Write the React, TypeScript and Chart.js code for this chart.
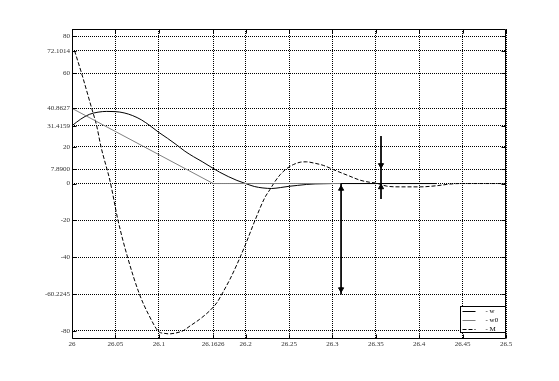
import React, { useEffect, useRef } from 'react';
import { Chart, registerables } from 'chart.js';
Chart.register(...registerables);

const xTicks = [26, 26.05, 26.1, 26.1626, 26.2, 26.25, 26.3, 26.35, 26.4, 26.45, 26.5];
const xTickLabels = ['26', '26.05', '26.1', '26.1626', '26.2', '26.25', '26.3', '26.35', '26.4', '26.45', '26.5'];
const yTicks = [-80, -60.2245, -40, -20, 0, 7.89, 20, 31.4159, 40.8627, 60, 72.1014, 80];
const yTickLabels = ['-80', '-60.2245', '-40', '-20', '0', '7.8900', '20', '31.4159', '40.8627', '60', '72.1014', '80'];

// w (solid)
const wX = [26.0, 26.01, 26.02, 26.03, 26.04, 26.05, 26.06, 26.07, 26.08, 26.09, 26.1, 26.11, 26.12, 26.13, 26.14, 26.15, 26.16, 26.17, 26.18, 26.19, 26.2, 26.21, 26.22, 26.23, 26.24, 26.25, 26.26, 26.27, 26.28, 26.29, 26.3];
const wY = [31.4159, 35.0, 37.6, 38.8, 39.2, 39.1, 38.4, 36.9, 34.6, 31.4, 27.8, 24.6, 21.2, 17.6, 14.6, 11.9, 9.0, 6.2, 3.8, 1.7, 0.0, -1.6, -2.4, -2.7, -2.2, -1.5, -1.0, -0.5, -0.2, -0.1, 0];
const wTailX = [26.31, 26.42];
const wTailY = [0, 0];

// w0 (gray)
const w0X = [26.0, 26.1626, 26.42];
const w0Y = [40.8627, 0, 0];

// M (dashed)
const mX = [26.003, 26.011, 26.0227, 26.0284, 26.0334, 26.044, 26.053, 26.064, 26.0776, 26.088, 26.1, 26.106, 26.112, 26.119, 26.128, 26.136, 26.147, 26.159, 26.167, 26.174, 26.182, 26.19, 26.2, 26.21, 26.222, 26.228, 26.234, 26.24, 26.247, 26.255, 26.263, 26.27, 26.278, 26.29, 26.301, 26.3125, 26.32, 26.332, 26.343, 26.35, 26.3625, 26.378, 26.401, 26.42, 26.435, 26.447, 26.5];
const mY = [72.1014, 60, 40.8627, 31.4159, 20, 1, -20, -40, -60, -71, -80.5, -81.4, -81.7, -81.3, -80, -77.4, -73.8, -69, -64.7, -59, -52, -44, -33, -21, -7.8, -3.3, 1.2, 4.9, 8, 10.3, 11.6, 11.8, 11.2, 9.8, 7.6, 5.4, 4, 1.8, 0.7, 0.3, -1.4, -1.8, -1.8, -1.2, -0.3, 0, 0];

// annotation arrows
const arrowAX = [26.31, 26.31];
const arrowAY = [0, -60.2245];
const arrowBX = [26.356, 26.356];
const arrowBY = [25.8, -8.4];
const headX = [26.31, 26.31, 26.356, 26.356];
const headY = [-2.8, -57.5, 10.0, -2.0];
const headRot = [0, 180, 180, 0];

const legendLabels = ['w', 'w0', 'M'];

const FONT = 'Liberation Serif, Times New Roman, serif';

const toPts = (xs: number[], ys: number[]) => xs.map((x, i) => ({ x, y: ys[i] }));

const framePlugin = {
  id: 'frameTicks',
  afterDraw(chart: any) {
    const { ctx, chartArea: a, scales } = chart;
    const L = Math.round(a.left) + 0.5;
    const R = Math.round(a.right) - 0.5;
    const T = Math.round(a.top) + 0.5;
    const B = Math.round(a.bottom) - 0.5;
    ctx.save();
    ctx.setLineDash([]);
    ctx.strokeStyle = '#000';
    ctx.lineWidth = 1;
    ctx.beginPath();
    ctx.rect(L, T, R - L, B - T);
    ctx.stroke();
    ctx.beginPath();
    for (const v of xTicks) {
      const px = Math.round(scales.x.getPixelForValue(v)) + 0.5;
      ctx.moveTo(px, B); ctx.lineTo(px, B - 4);
      ctx.moveTo(px, T); ctx.lineTo(px, T + 4);
    }
    for (const v of yTicks) {
      const py = Math.round(scales.y.getPixelForValue(v)) + 0.5;
      ctx.moveTo(L, py); ctx.lineTo(L + 4, py);
      ctx.moveTo(R, py); ctx.lineTo(R - 4, py);
    }
    ctx.stroke();

    // legend box
    const bw = 45, bh = 26;
    const bx = Math.round(a.right) - 1 - bw + 0.5;
    const by = Math.round(a.bottom) - 7 - bh + 0.5;
    ctx.fillStyle = '#fff';
    ctx.fillRect(bx, by, bw, bh);
    ctx.strokeRect(bx, by, bw, bh);
    ctx.font = `7px ${FONT}`;
    ctx.textBaseline = 'middle';
    ctx.textAlign = 'left';
    legendLabels.forEach((lab, i) => {
      const ds = chart.data.datasets.find((d: any) => d.label === lab);
      if (!ds) return;
      const y = Math.round(by + 4 + i * 9) + 0.5;
      ctx.strokeStyle = ds.borderColor;
      ctx.setLineDash(ds.borderDash || []);
      ctx.beginPath();
      ctx.moveTo(bx + 2, y);
      ctx.lineTo(bx + 15, y);
      ctx.stroke();
      ctx.setLineDash([]);
      ctx.fillStyle = '#000';
      ctx.fillText('- ' + lab, bx + 25, y);
    });
    ctx.restore();
  },
};

export default function App() {
  const ref = useRef<HTMLCanvasElement>(null);
  useEffect(() => {
    document.body.style.margin = '0';
    const line = { borderWidth: 1, pointRadius: 0, fill: false, tension: 0 };
    const chart = new Chart(ref.current as HTMLCanvasElement, {
      type: 'line',
      data: {
        datasets: [
          {
            label: 'heads', data: toPts(headX, headY), showLine: false,
            pointStyle: 'triangle', pointRadius: 3, pointRotation: headRot,
            pointBackgroundColor: '#000', pointBorderColor: '#000', pointBorderWidth: 1, order: 0,
          } as any,
          { label: 'arrowA', data: toPts(arrowAX, arrowAY), borderColor: '#000', ...line, order: 0 },
          { label: 'arrowB', data: toPts(arrowBX, arrowBY), borderColor: '#000', ...line, order: 0 },
          { label: 'wTail', data: toPts(wTailX, wTailY), borderColor: '#000', ...line, order: 0 },
          { label: 'w0', data: toPts(w0X, w0Y), borderColor: '#808080', ...line, order: 1 },
          { label: 'w', data: toPts(wX, wY), borderColor: '#000', ...line, cubicInterpolationMode: 'monotone', order: 2 },
          { label: 'M', data: toPts(mX, mY), borderColor: '#000', borderDash: [4, 2], ...line, cubicInterpolationMode: 'monotone', order: 3 },
        ],
      },
      options: {
        responsive: false,
        animation: false,
        devicePixelRatio: 1,
        layout: { padding: { top: 29, right: 53, left: 0, bottom: 0 } },
        plugins: { legend: { display: false }, tooltip: { enabled: false } },
        scales: {
          x: {
            type: 'linear', min: 26, max: 26.5,
            afterBuildTicks: (s: any) => { s.ticks = xTicks.map((v) => ({ value: v })); },
            afterFit: (s: any) => { s.height = 42; },
            grid: { color: '#000', lineWidth: 1, drawTicks: false },
            border: { display: false, dash: [1, 1] },
            ticks: {
              autoSkip: false, maxRotation: 0, padding: 1, color: '#333',
              font: { family: FONT, size: 7 },
              callback: (_v: any, i: number) => xTickLabels[i],
            },
          },
          y: {
            type: 'linear', min: -84.5, max: 84,
            afterBuildTicks: (s: any) => { s.ticks = yTicks.map((v) => ({ value: v })); },
            afterFit: (s: any) => { s.width = 72; },
            grid: { color: '#000', lineWidth: 1, drawTicks: false },
            border: { display: false, dash: [1, 1] },
            ticks: {
              autoSkip: false, padding: 2, color: '#333',
              font: { family: FONT, size: 7 },
              callback: (_v: any, i: number) => yTickLabels[i],
            },
          },
        },
      } as any,
      plugins: [framePlugin],
    });
    return () => chart.destroy();
  }, []);
  return (
    <div style={{ position: 'absolute', left: 0, top: 0, width: 559, height: 381, background: '#fff' }}>
      <canvas ref={ref} width={559} height={381} style={{ width: 559, height: 381, display: 'block' }} />
    </div>
  );
}
